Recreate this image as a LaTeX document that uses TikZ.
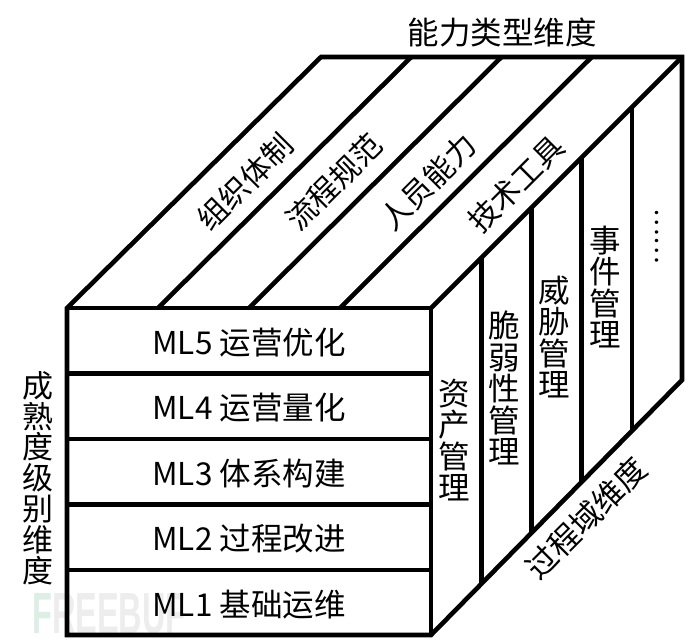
\documentclass[tikz,border=0pt]{standalone}
\usepackage{fontspec}
\newfontfamily\cjk{Noto Sans CJK SC}
\newfontfamily\wmfont{Liberation Sans}
\definecolor{wmgreen}{HTML}{DCEEE5}
\definecolor{wmgray}{HTML}{EDEDED}
\begin{document}
\begin{tikzpicture}[x=1pt,y=-1pt,
  edge/.style={line width=4.6pt, line join=miter},
  lbl/.style={font=\cjk\fontsize{31.5}{31.5}\selectfont, inner sep=0pt},
  rlbl/.style={font=\cjk\fontsize{30}{30}\selectfont, inner sep=0pt, rotate=45},
  vlbl/.style={lbl, align=center},
  ]
\fill[white] (0,0) rectangle (690,643);
\useasboundingbox (0,0) rectangle (690,643);

% watermark
\node[inner sep=0pt, xscale=0.56, font=\wmfont\bfseries\fontsize{58}{58}\selectfont] (wm) at (109,614)
  {\textcolor{wmgreen}{F}\textcolor{wmgray}{REEBUF}};

% key corners
\coordinate (F0) at (67,308);
\coordinate (F4) at (431,308);
\coordinate (B0) at (321,57);
\coordinate (B4) at (682,57);
\coordinate (FB0) at (67,635);
\coordinate (FB4) at (431,635);
\coordinate (RB) at (682,380);

% outer outline
\draw[edge] (FB0) -- (F0) -- (B0) -- (B4) -- (RB) -- (FB4) -- cycle;
\draw[edge] (F0) -- (F4) -- (FB4);
\draw[edge] (F4) -- (B4);

% front rows
\foreach \y in {373.5,439,504.5,570} \draw[edge] (67,\y) -- (431,\y);

% top strips
\foreach \k in {1,2,3} \draw[edge] ({67+91*\k},308) -- ({321+90.25*\k},57);

% right columns
\foreach \k in {1,2,3,4} {
  \pgfmathsetmacro{\xx}{431+50.2*\k}
  \pgfmathsetmacro{\ytop}{308-50.2*\k}
  \pgfmathsetmacro{\ybot}{635-51*\k}
  \draw[edge] (\xx,\ytop) -- (\xx,\ybot);
}

% texts
\node[lbl] (title) at (502,33) {能力类型维度};
\node[vlbl, font=\cjk\fontsize{31}{30.8}\selectfont] (maturity) at (38,478) {成\\熟\\度\\级\\别\\维\\度};

\node[lbl] (ml5) at (249,343) {ML5 运营优化};
\node[lbl] (ml4) at (249,408) {ML4 运营量化};
\node[lbl] (ml3) at (249,474) {ML3 体系构建};
\node[lbl] (ml2) at (249,539) {ML2 过程改进};
\node[lbl] (ml1) at (249,605) {ML1 基础运维};

\node[rlbl] (cap1) at (245,182) {组织体制};
\node[rlbl] (cap2) at (334,182) {流程规范};
\node[rlbl] (cap3) at (428,182) {人员能力};
\node[rlbl] (cap4) at (516,184) {技术工具};

\node[vlbl] (p1) at (454,440) {资\\产\\管\\理};
\node[vlbl] (p2) at (504,388) {脆\\弱\\性\\管\\理};
\node[vlbl] (p3) at (554,337) {威\\胁\\管\\理};
\node[vlbl] (p4) at (605,287) {事\\件\\管\\理};
\node[lbl, font=\cjk\fontsize{26}{26}\selectfont, rotate=-90] (p5) at (657,236) {……};

\node[rlbl, font=\cjk\fontsize{31}{31}\selectfont] (proc) at (586,518) {过程域维度};
\end{tikzpicture}
\end{document}
